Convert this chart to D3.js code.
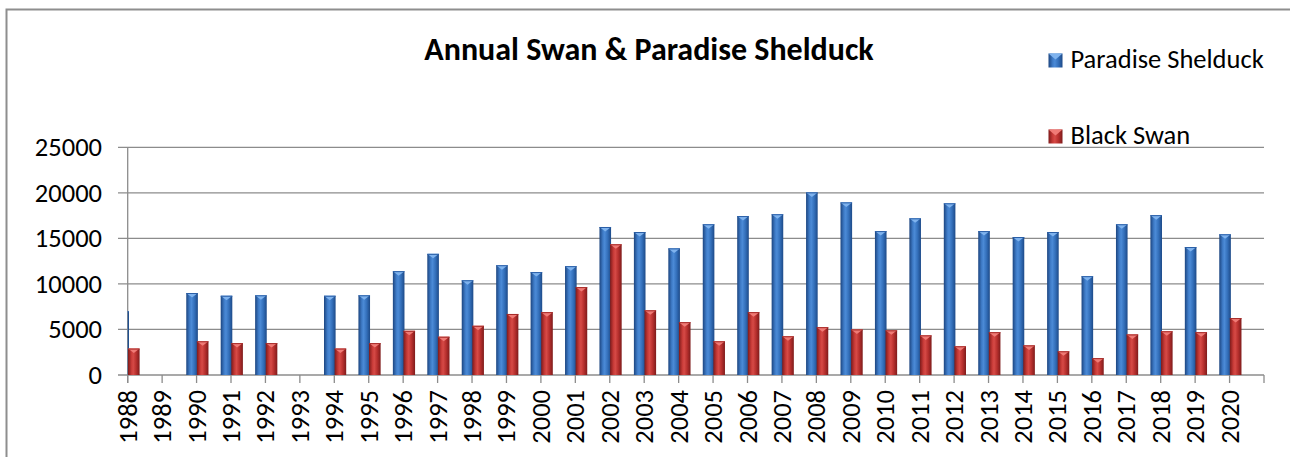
<!DOCTYPE html>
<html>
<head>
<meta charset="utf-8">
<script src="https://cdn.jsdelivr.net/npm/d3@7/dist/d3.min.js"></script>
<style>
  html, body { margin: 0; padding: 0; background: #fff; }
  svg { display: block; }
  text { font-family: Carlito, Lato, "Open Sans", sans-serif; fill: #000; }
</style>
</head>
<body>
<svg id="chart" width="1290" height="457"></svg>
<script>
const years = ["1988","1989","1990","1991","1992","1993","1994","1995","1996","1997","1998","1999","2000","2001","2002","2003","2004","2005","2006","2007","2008","2009","2010","2011","2012","2013","2014","2015","2016","2017","2018","2019","2020"];
const paradiseShelduck = [7000, null, 9000, 8700, 8750, null, 8700, 8750, 11400, 13300, 10400, 12050, 11300, 11950, 16250, 15700, 13900, 16550, 17450, 17650, 20050, 18950, 15800, 17200, 18850, 15800, 15150, 15700, 10850, 16550, 17550, 14050, 15450];
const blackSwan = [2900, null, 3700, 3500, 3500, null, 2900, 3500, 4850, 4200, 5400, 6700, 6900, 9650, 14350, 7100, 5800, 3700, 6900, 4250, 5250, 5000, 4900, 4350, 3150, 4700, 3250, 2600, 1850, 4450, 4800, 4700, 6250];
const yTicks = [0, 5000, 10000, 15000, 20000, 25000];
const seriesNames = ["Paradise Shelduck", "Black Swan"];
const titleText = "Annual Swan & Paradise Shelduck";

const svg = d3.select("#chart");
const defs = svg.append("defs");

function grad(id, stops) {
  const g = defs.append("linearGradient").attr("id", id).attr("x1", "0%").attr("x2", "100%").attr("y1", "0%").attr("y2", "0%");
  stops.forEach(s => g.append("stop").attr("offset", s[0]).attr("stop-color", s[1]));
}
grad("gBlue", [["0%", "#1c4580"], ["30%", "#3f7cc8"], ["45%", "#4b8ad6"], ["70%", "#3470bb"], ["100%", "#1d4a88"]]);
grad("gRed", [["0%", "#7e1a1a"], ["30%", "#c83b38"], ["45%", "#d64a46"], ["70%", "#b8302e"], ["100%", "#7e1b1b"]]);

const x0 = 127.7, x1 = 1264, yBase = 375, yTop = 147.3;
const x = d3.scalePoint().domain(years.concat([""])).range([x0, x1]);
const y = d3.scaleLinear().domain([0, 25000]).range([yBase, yTop]);
const fs = 26.5;

// outer frame
svg.append("rect").attr("x", 6.5).attr("y", 9.5).attr("width", 1400).attr("height", 600)
  .attr("fill", "none").attr("stroke", "#8e8e8e").attr("stroke-width", 2);

// gridlines
svg.append("g").selectAll("line").data(yTicks).join("line")
  .attr("x1", 118).attr("x2", x1).attr("y1", d => y(d)).attr("y2", d => y(d))
  .attr("stroke", "#8c8c8c").attr("stroke-width", 1.3);

// y labels
svg.append("g").selectAll("text").data(yTicks).join("text")
  .attr("x", 102).attr("y", d => y(d)).attr("dy", "0.34em")
  .attr("text-anchor", "end").attr("font-size", fs).text(d => d);

// y axis line
svg.append("line").attr("x1", x0).attr("x2", x0).attr("y1", yTop).attr("y2", yBase + 8)
  .attr("stroke", "#8c8c8c").attr("stroke-width", 1.3);

// x ticks
svg.append("g").selectAll("line").data(x.domain()).join("line")
  .attr("x1", d => x(d)).attr("x2", d => x(d)).attr("y1", yBase).attr("y2", yBase + 8)
  .attr("stroke", "#8c8c8c").attr("stroke-width", 1.3);

// x labels
svg.append("g").selectAll("text").data(years).join("text")
  .attr("transform", d => `translate(${x(d)},390) rotate(-90)`)
  .attr("dy", "0.34em").attr("text-anchor", "end").attr("font-size", fs).text(d => d);

// bars
defs.append("clipPath").attr("id", "plotClip").append("rect")
  .attr("x", x0).attr("y", 0).attr("width", x1 - x0).attr("height", yBase + 2);
const plot = svg.append("g").attr("clip-path", "url(#plotClip)");
const bw = 11.6;
const series = [
  { vals: paradiseShelduck, off: -10.3, fill: "url(#gBlue)", cap: "#7fb3ee", capEdge: "#2a5ea6" },
  { vals: blackSwan, off: 0.3, fill: "url(#gRed)", cap: "#f07b76", capEdge: "#a52a28" }
];
series.forEach(s => {
  const data = years.map((yr, i) => ({ yr, v: s.vals[i] })).filter(d => d.v != null);
  const g = plot.append("g");
  g.selectAll("rect").data(data).join("rect")
    .attr("x", d => x(d.yr) + s.off).attr("width", bw)
    .attr("y", d => y(d.v)).attr("height", d => yBase - y(d.v))
    .attr("fill", s.fill);
  g.selectAll("path.cap").data(data).join("path").attr("class", "cap")
    .attr("d", d => {
      const l = x(d.yr) + s.off, r = l + bw, t = y(d.v);
      return `M${l},${t}L${r},${t}L${l + bw / 2},${t + 4.5}Z`;
    })
    .attr("fill", s.cap);
  g.selectAll("path.edge").data(data).join("path").attr("class", "edge")
    .attr("d", d => {
      const l = x(d.yr) + s.off, r = l + bw, t = y(d.v);
      return `M${l},${t + 0.5}L${r},${t + 0.5}`;
    })
    .attr("stroke", s.capEdge).attr("stroke-width", 1);
});

// title
svg.append("text").attr("x", 649).attr("y", 60).attr("text-anchor", "middle")
  .attr("font-size", 32).attr("font-weight", "bold").text(titleText);

// legend
const legendY = [67.5, 143.5];
const legend = svg.append("g");
seriesNames.forEach((name, i) => {
  const s = series[i];
  const ly = legendY[i];
  legend.append("rect").attr("x", 1048.5).attr("y", ly - 14).attr("width", 14).attr("height", 14).attr("fill", s.fill);
  legend.append("path").attr("d", `M1048.5,${ly - 14}L1062.5,${ly - 14}L1055.5,${ly - 8}Z`).attr("fill", s.cap);
  legend.append("text").attr("x", 1070.5).attr("y", ly).attr("font-size", fs).text(name);
});
</script>
</body>
</html>
